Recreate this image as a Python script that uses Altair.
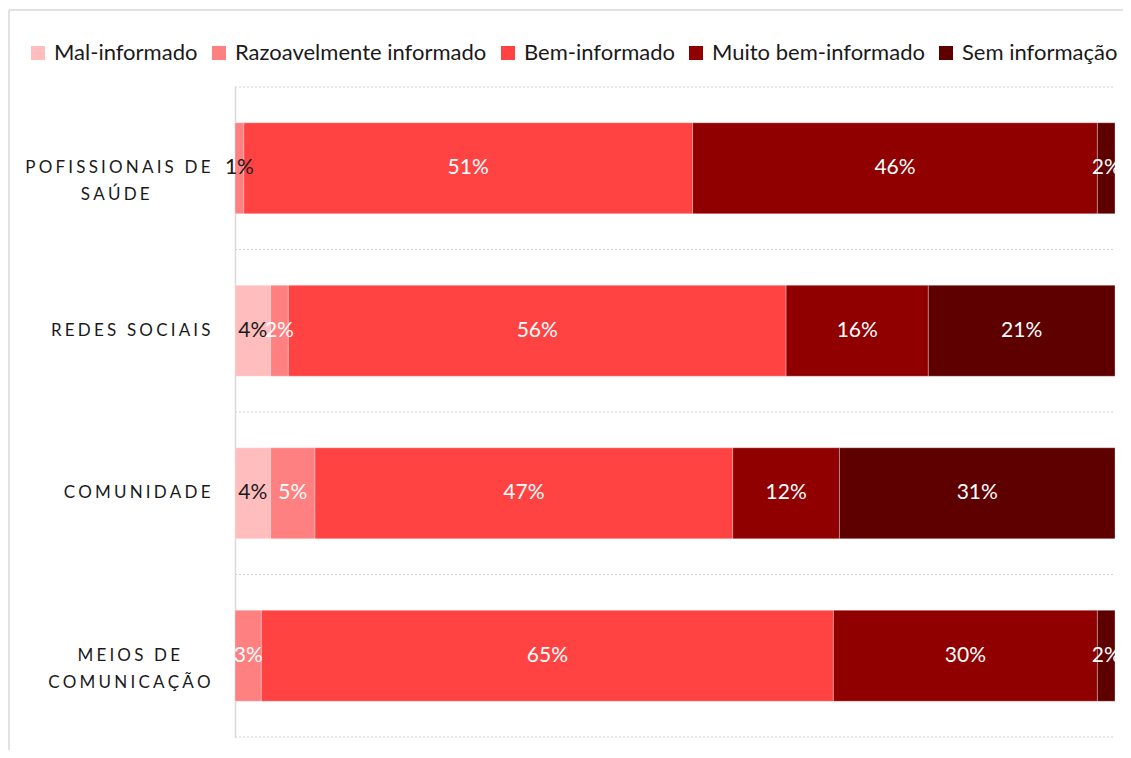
import altair as alt
import pandas as pd

categories = ["POFISSIONAIS DE SAÚDE", "REDES SOCIAIS", "COMUNIDADE", "MEIOS DE COMUNICAÇÃO"]
series = ["Mal-informado", "Razoavelmente informado", "Bem-informado",
          "Muito bem-informado", "Sem informação"]
mal = [0, 4, 4, 0]
razo = [1, 2, 5, 3]
bem = [51, 56, 47, 65]
muito = [46, 16, 12, 30]
sem = [2, 21, 31, 2]
colors = ["#FFBDBD", "#FF8080", "#FF4343", "#910000", "#5F0000"]

# axis label lines (line break between words, letters spaced out);
# shorter line padded so the two lines look centred on each other
label_lines = {
    "POFISSIONAIS DE SAÚDE": [("POFISSIONAIS DE", 0), ("SAÚDE", 14)],
    "REDES SOCIAIS": [("REDES SOCIAIS", 0)],
    "COMUNIDADE": [("COMUNIDADE", 0)],
    "MEIOS DE COMUNICAÇÃO": [("MEIOS DE", 7), ("COMUNICAÇÃO", 0)],
}
GAP = "\u2009\u200A"
NB = "\u00A0"
ZW = "\u200B"


def spaced(s):
    return GAP.join(list(s))


def display_label(cat):
    out = []
    for text, pad in label_lines[cat]:
        line = spaced(text)
        if pad:
            line = line + NB * pad + ZW
        out.append(line)
    return "|".join(out)


vals = [mal, razo, bem, muito, sem]
rows = []
for si, s in enumerate(series):
    for ci, c in enumerate(categories):
        rows.append({"cat": display_label(c), "series": s, "order": si,
                     "value": vals[si][ci]})
df = pd.DataFrame(rows)
cat_order = [display_label(c) for c in categories]
grid_df = pd.DataFrame({"cat": cat_order,
                        "last": [i == len(cat_order) - 1 for i in range(len(cat_order))]})

FONT = "Lato"
W, H = 880, 650
STEP = H / len(categories)

yscale = alt.Scale(paddingInner=0.44, paddingOuter=0.22)
yaxis = alt.Axis(labelExpr="split(datum.label, '|')",
                 labelFont=FONT, labelFontSize=17, labelColor="#1a1a1a",
                 labelAlign="right", labelPadding=25, labelLineHeight=27,
                 ticks=False, domainColor="#D9D9D9", domainWidth=1.5,
                 grid=False, labelLimit=0)


def ydef():
    return alt.Y("cat:N", sort=cat_order, title=None, scale=yscale, axis=yaxis)


base = alt.Chart(df).transform_stack(
    stack="value", groupby=["cat"], as_=["x0", "x1"], offset="normalize",
    sort=[alt.SortField("order", order="ascending")]
).transform_calculate(
    mid="(datum.x0 + datum.x1) / 2",
    lbl="format(datum.value / 100, '.0%')"
)

grid_top = alt.Chart(grid_df).mark_rule(
    color="#D0D0D0", strokeWidth=1, strokeDash=[2, 2], yOffset=-STEP / 2
).encode(y=ydef(), x=alt.value(0), x2=alt.value(W))
grid_bot = alt.Chart(grid_df).transform_filter("datum.last").mark_rule(
    color="#D0D0D0", strokeWidth=1, strokeDash=[2, 2], yOffset=STEP / 2
).encode(y=ydef(), x=alt.value(0), x2=alt.value(W))

bars = base.mark_bar(stroke="white", strokeWidth=0.6, strokeOpacity=0.5).encode(
    x=alt.X("x0:Q", axis=None, scale=alt.Scale(domain=[0, 1], nice=False)),
    x2="x1:Q",
    y=ydef(),
    color=alt.Color("series:N", sort=series,
                    scale=alt.Scale(domain=series, range=colors),
                    legend=alt.Legend(title=None, orient="none", direction="horizontal",
                                      legendX=-208, legendY=-45,
                                      symbolType="square", symbolSize=196,
                                      symbolStrokeWidth=0, labelFont=FONT,
                                      labelFontSize=22, labelColor="#1a1a1a",
                                      labelOffset=5, columnPadding=10, labelLimit=0)),
)

texts = base.transform_filter("datum.value > 0").mark_text(
    font=FONT, fontSize=21, baseline="middle", align="center"
).encode(
    x=alt.X("mid:Q"),
    y=ydef(),
    text="lbl:N",
    color=alt.condition(
        "datum.series == 'Mal-informado' || datum.value <= 1",
        alt.value("#1a1a1a"), alt.value("white")),
)

one = pd.DataFrame({"k": [0]})
frame_left = alt.Chart(one).mark_rule(color="#D9D9D9", strokeWidth=1.5).encode(
    x=alt.value(-226), y=alt.value(-77), y2=alt.value(H + 13))
frame_top = alt.Chart(one).mark_rule(color="#D9D9D9", strokeWidth=1.5).encode(
    x=alt.value(-226), x2=alt.value(W + 8), y=alt.value(-77))

chart = alt.layer(frame_left, frame_top, grid_top, grid_bot, bars, texts).properties(
    width=W, height=H,
    autosize=alt.AutoSizeParams(type="none"),
    padding={"left": 227, "top": 79, "right": 8, "bottom": 13},
    background="white",
).configure_view(stroke=None)

chart.save("out.html", embed_options={"renderer": "svg", "actions": False})
